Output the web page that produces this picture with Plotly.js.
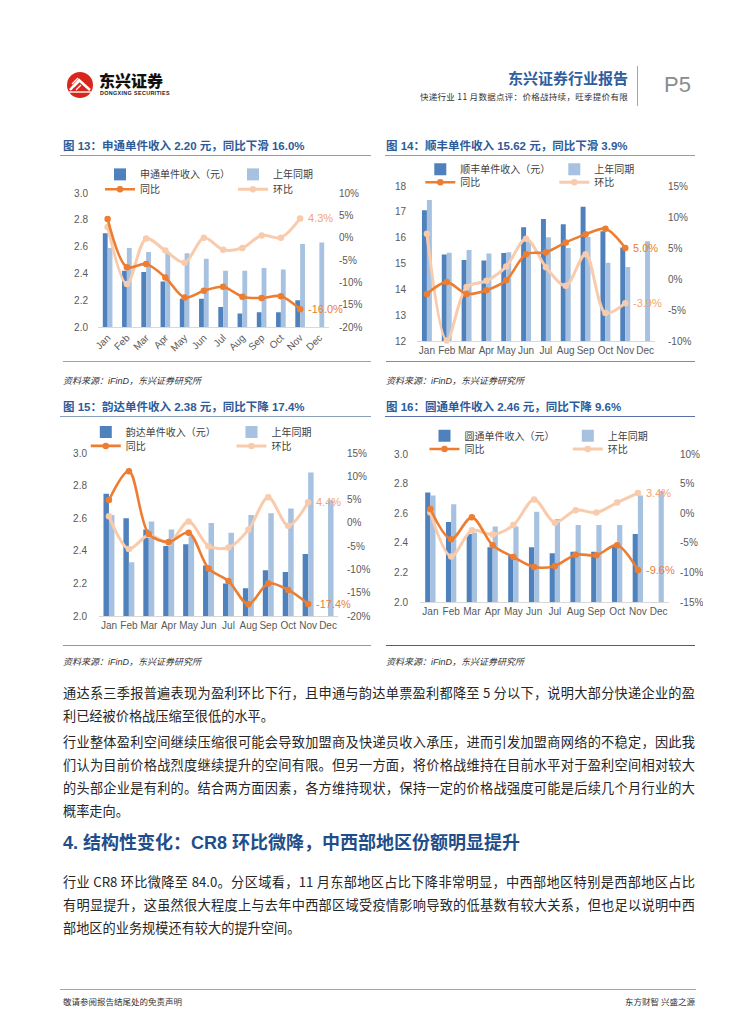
<!DOCTYPE html>
<html><head><meta charset="utf-8">
<script src="https://cdn.plot.ly/plotly-3.0.1.min.js"></script>
<style>
html,body{margin:0;padding:0;background:#fff;}
#page{position:relative;width:755px;height:1024px;overflow:hidden;font-family:"Noto Sans CJK SC",sans-serif;background:#fff;}
.abs{position:absolute;white-space:nowrap;}
.ctitle{position:absolute;font-family:"Liberation Sans","Noto Sans CJK SC",sans-serif;font-weight:bold;font-size:11.5px;color:#2E5B99;white-space:nowrap;line-height:14px;}
.hr{position:absolute;height:0;}
.src{position:absolute;font-family:"Liberation Sans","Noto Sans CJK SC",sans-serif;font-size:9px;font-style:italic;color:#333;white-space:nowrap;line-height:12px;}
.ln{position:absolute;left:63px;width:632px;font-size:13.2px;line-height:23px;height:23px;color:#262626;overflow:hidden;font-family:"Noto Sans CJK SC","Liberation Sans",sans-serif;}
.j{text-align:justify;text-align-last:justify;}
.chart{position:absolute;}
</style>
</head>
<body>
<div id="page">
  <!-- header -->
  <svg class="abs" style="left:66px;top:71px" width="28" height="28" viewBox="0 0 28 28">
    <circle cx="14" cy="14" r="13" fill="#D9261C"/>
    <path d="M4,19 L13,9 L24,19" stroke="#fff" stroke-width="2.6" fill="none"/>
    <path d="M6,13 L12,7 M8,16 L14,10 M10,19 L15,14" stroke="#fff" stroke-width="1.2" fill="none"/>
    <path d="M3,21 L25,21" stroke="#fff" stroke-width="1.4"/>
  </svg>
  <div class="abs" style="left:99px;top:70px;font-size:16px;font-weight:900;color:#111;letter-spacing:0px;line-height:20px;">东兴证券</div>
  <div class="abs" style="left:100px;top:90px;font-family:'Liberation Sans',sans-serif;font-size:5.4px;font-weight:bold;color:#222;letter-spacing:0.35px;line-height:7px;">DONGXING SECURITIES</div>
  <div class="abs" style="right:127px;top:68px;font-size:15px;font-weight:bold;color:#2F5D9E;line-height:20px;">东兴证券行业报告</div>
  <div class="abs" style="right:127px;top:90px;font-size:8.5px;color:#333;line-height:12px;letter-spacing:0.3px;">快递行业 11 月数据点评：价格战持续，旺季提价有限</div>
  <div class="abs" style="left:637px;top:66px;width:0;height:40px;border-left:1.5px solid #A6A6A6;"></div>
  <div class="abs" style="left:664px;top:71px;font-family:'Liberation Sans',sans-serif;font-size:22px;color:#8C8C8C;line-height:28px;">P5</div>

  <!-- chart titles and rules -->
  <div class="ctitle" style="left:63px;top:139px;">图 13：申通单件收入 2.20 元，同比下滑 16.0%</div>
  <div class="hr" style="left:60px;top:155px;width:311px;border-top:1.5px solid #8AA0B8;"></div>
  <div class="ctitle" style="left:386px;top:139px;">图 14：顺丰单件收入 15.62 元，同比下滑 3.9%</div>
  <div class="hr" style="left:385px;top:155px;width:310px;border-top:1.5px solid #8AA0B8;"></div>
  <div class="hr" style="left:63px;top:361px;width:308px;border-top:1.5px solid #7FA8CC;"></div>
  <div class="hr" style="left:386px;top:361px;width:309px;border-top:1.5px solid #8583CC;"></div>
  <div class="src" style="left:63px;top:375px;">资料来源：iFinD，东兴证券研究所</div>
  <div class="src" style="left:386px;top:375px;">资料来源：iFinD，东兴证券研究所</div>

  <div class="ctitle" style="left:63px;top:400px;">图 15：韵达单件收入 2.38 元，同比下降 17.4%</div>
  <div class="hr" style="left:60px;top:416px;width:311px;border-top:1.5px solid #8AA0B8;"></div>
  <div class="ctitle" style="left:386px;top:400px;">图 16：圆通单件收入 2.46 元，同比下降 9.6%</div>
  <div class="hr" style="left:385px;top:416px;width:310px;border-top:1.5px solid #5B6FA8;"></div>
  <div class="hr" style="left:63px;top:645px;width:308px;border-top:1.5px solid #7C9CC4;"></div>
  <div class="hr" style="left:386px;top:645px;width:309px;border-top:1.5px solid #4D5AA3;"></div>
  <div class="src" style="left:63px;top:656px;">资料来源：iFinD，东兴证券研究所</div>
  <div class="src" style="left:386px;top:656px;">资料来源：iFinD，东兴证券研究所</div>

  <div id="c13" class="chart"></div>
  <div id="c14" class="chart"></div>
  <div id="c15" class="chart"></div>
  <div id="c16" class="chart"></div>

  <!-- body text -->
  <div class="ln j" style="top:681px;">通达系三季报普遍表现为盈利环比下行，且申通与韵达单票盈利都降至 5 分以下，说明大部分快递企业的盈</div>
  <div class="ln" style="top:704px;">利已经被价格战压缩至很低的水平。</div>
  <div class="ln j" style="top:730px;">行业整体盈利空间继续压缩很可能会导致加盟商及快递员收入承压，进而引发加盟商网络的不稳定，因此我</div>
  <div class="ln j" style="top:753px;">们认为目前价格战烈度继续提升的空间有限。但另一方面，将价格战维持在目前水平对于盈利空间相对较大</div>
  <div class="ln j" style="top:776px;">的头部企业是有利的。结合两方面因素，各方维持现状，保持一定的价格战强度可能是后续几个月行业的大</div>
  <div class="ln" style="top:799px;">概率走向。</div>
  <div class="abs" style="left:63px;top:831px;font-size:18px;font-weight:bold;color:#1F4E8A;line-height:25px;font-family:'Liberation Sans','Noto Sans CJK SC',sans-serif;">4. 结构性变化：CR8 环比微降，中西部地区份额明显提升</div>
  <div class="ln j" style="top:870px;">行业 CR8 环比微降至 84.0。分区域看，11 月东部地区占比下降非常明显，中西部地区特别是西部地区占比</div>
  <div class="ln j" style="top:893px;">有明显提升，这虽然很大程度上与去年中西部区域受疫情影响导致的低基数有较大关系，但也足以说明中西</div>
  <div class="ln" style="top:916px;">部地区的业务规模还有较大的提升空间。</div>

  <!-- footer -->
  <div class="hr" style="left:60px;top:989px;width:636px;border-top:1.5px solid #8EAACB;"></div>
  <div class="abs" style="left:63px;top:995px;font-size:8.5px;color:#333;line-height:12px;">敬请参阅报告结尾处的免责声明</div>
  <div class="abs" style="right:60px;top:995px;font-size:8.5px;color:#333;line-height:12px;">东方财智 兴盛之源</div>
</div>

<script>
// ---------------- data ----------------
const months = ['Jan','Feb','Mar','Apr','May','Jun','Jul','Aug','Sep','Oct','Nov','Dec'];

// 图13 申通
const stoRev  = [2.70, 2.42, 2.41, 2.34, 2.21, 2.21, 2.15, 2.10, 2.11, 2.11, 2.20];
const stoPrev = [2.59, 2.59, 2.56, 2.55, 2.55, 2.51, 2.42, 2.42, 2.44, 2.43, 2.62, 2.63];
const stoYoY  = [4.2, -6.6, -5.9, -8.9, -13.4, -11.9, -11.0, -13.2, -13.5, -13.1, -16.0];
const stoMoM  = [2.4, -10.4, -0.2, -2.9, -5.6, 0.0, -2.7, -2.3, 0.5, 0.0, 4.3];
const stoLeftTicks = [2.0, 2.2, 2.4, 2.6, 2.8, 3.0];
const stoPctTicks  = [-20, -15, -10, -5, 0, 5, 10];

// 图14 顺丰
const sfRev  = [17.06, 15.35, 15.14, 15.12, 15.41, 16.40, 16.72, 16.52, 17.20, 16.25, 15.62];
const sfPrev = [17.46, 15.42, 15.52, 15.39, 15.44, 15.90, 16.02, 15.60, 16.03, 15.03, 14.86, 15.86];
const sfYoY  = [-2.4, -0.5, -2.4, -1.8, -0.2, 4.0, 4.3, 5.9, 7.2, 8.1, 5.0];
const sfMoM  = [7.3, -9.9, -1.3, -0.3, 2.0, 6.5, 1.9, -1.1, 4.0, -5.5, -3.9];
const sfLeftTicks = [12, 13, 14, 15, 16, 17, 18];
const sfPctTicks  = [-10, -5, 0, 5, 10, 15];

// 图15 韵达
const ydRev  = [2.75, 2.60, 2.53, 2.43, 2.44, 2.31, 2.20, 2.17, 2.28, 2.27, 2.38];
const ydPrev = [2.62, 2.33, 2.58, 2.53, 2.49, 2.57, 2.51, 2.62, 2.63, 2.66, 2.88, 2.71];
const ydYoY  = [4.9, 11.1, -2.4, -4.1, -2.1, -9.8, -12.5, -17.5, -13.0, -14.4, -17.4];
const ydMoM  = [1.4, -5.6, -2.6, -4.3, 0.3, -5.0, -5.3, -1.5, 5.5, -0.6, 4.4];
const ydLeftTicks = [2.0, 2.2, 2.4, 2.6, 2.8, 3.0];
const ydPctTicks  = [-20, -15, -10, -5, 0, 5, 10, 15];

// 图16 圆通
const ytoRev  = [2.74, 2.54, 2.46, 2.37, 2.32, 2.37, 2.33, 2.34, 2.34, 2.38, 2.46];
const ytoPrev = [2.72, 2.66, 2.47, 2.51, 2.51, 2.61, 2.56, 2.52, 2.52, 2.52, 2.72, 2.75];
const ytoYoY  = [0.7, -4.4, -0.7, -5.4, -7.4, -9.1, -8.9, -7.0, -7.1, -5.4, -9.6];
const ytoMoM  = [0.1, -7.3, -2.9, -3.6, -2.0, 2.3, -1.6, 0.5, 0.1, 1.8, 3.4];
const ytoLeftTicks = [2.0, 2.2, 2.4, 2.6, 2.8, 3.0];
const ytoPctTicks  = [-15, -10, -5, 0, 5, 10];

// ---------------- drawing ----------------
const FONT = '"Liberation Sans", Arial, "Noto Sans CJK SC", sans-serif';
const C_REV = '#4F81BD', C_PREV = '#A7C1E0', C_YOY = '#ED7D31', C_MOM = '#F8CBAD', C_MOM_TXT = '#F4A46E';

function draw(cfg) {
  const el = document.getElementById(cfg.id);
  el.style.left = cfg.div.x + 'px';
  el.style.top = cfg.div.y + 'px';
  const W = cfg.div.w, H = cfg.div.h;
  const l = cfg.plot.x0 - cfg.div.x, r = cfg.div.x + W - cfg.plot.x1;
  const t = cfg.plot.y0 - cfg.div.y, b = cfg.div.y + H - cfg.plot.y1;
  const pw = cfg.plot.x1 - cfg.plot.x0, ph = cfg.plot.y1 - cfg.plot.y0;
  const lx = (cfg.leg.x - 5 - cfg.plot.x0) / pw;
  const ly1 = (cfg.plot.y1 - cfg.leg.y1) / ph, ly2 = (cfg.plot.y1 - cfg.leg.y2) / ph;
  const n = cfg.rev.length;
  const xCur = months.slice(0, n);
  const firstW = cfg.leg.gap - 45;

  const revT = {type:'bar', x:xCur, y:cfg.rev, name:cfg.revName, marker:{color:C_REV},
    legend:'legend', legendwidth:firstW};
  const prevT = {type:'bar', x:months, y:cfg.prev, name:'上年同期', marker:{color:C_PREV},
    legend:'legend', legendwidth:45};
  const yoyT = {type:'scatter', mode:'lines+markers', x:xCur, y:cfg.yoy, yaxis:'y2', name:'同比',
    line:{color:C_YOY, width:2.6, shape:'spline', smoothing:0.9}, marker:{size:6.5, color:C_YOY},
    cliponaxis:false, legend:'legend2', legendwidth:firstW, legendrank:1};
  const momT = {type:'scatter', mode:'lines+markers', x:xCur, y:cfg.mom, yaxis:'y2', name:'环比',
    line:{color:C_MOM, width:3, shape:'spline', smoothing:0.9}, marker:{size:6.5, color:C_MOM},
    cliponaxis:false, legend:'legend2', legendwidth:30, legendrank:2};
  const data = [revT, prevT, momT, yoyT];

  const legBase = {orientation:'h', xanchor:'left', yanchor:'middle', x:lx,
    entrywidthmode:'pixels', itemwidth:30,
    bgcolor:'rgba(0,0,0,0)', font:{family:FONT, size:10, color:'#404040'}, traceorder:'normal'};

  const lastYoY = cfg.yoy[n-1], lastMoM = cfg.mom[n-1];
  const layout = {
    width:W, height:H, margin:{l:l, r:r, t:t, b:b, pad:0},
    paper_bgcolor:'rgba(0,0,0,0)', plot_bgcolor:'rgba(0,0,0,0)',
    font:{family:FONT, size:10, color:'#595959'},
    barmode:'group', bargap:cfg.bargap, bargroupgap:0,
    showlegend:true,
    xaxis:{type:'category', categoryorder:'array', categoryarray:months, range:[-0.5, 11.5],
      tickangle:cfg.angle, showline:true, linecolor:'#D9D9D9', linewidth:1, ticks:'',
      showgrid:false, zeroline:false, tickfont:{family:FONT, size:10, color:'#595959'}, fixedrange:true},
    yaxis:{range:[cfg.leftTicks[0], cfg.leftTicks[cfg.leftTicks.length-1]], tickvals:cfg.leftTicks,
      ticktext:cfg.leftTicks.map(v => v.toFixed(cfg.dec)), showgrid:false, zeroline:false, showline:false,
      ticks:'', ticklabelstandoff:cfg.lstand, tickfont:{family:FONT, size:10, color:'#595959'}, fixedrange:true},
    yaxis2:{overlaying:'y', side:'right', range:[cfg.pct[0], cfg.pct[cfg.pct.length-1]], tickvals:cfg.pct,
      ticktext:cfg.pct.map(v => v + '%'), showgrid:false, zeroline:false, showline:false, ticks:'',
      ticklabelstandoff:cfg.rstand, tickfont:{family:FONT, size:10, color:'#595959'}, fixedrange:true},
    legend: Object.assign({}, legBase, {y:ly1}),
    legend2: Object.assign({}, legBase, {y:ly2}),
    annotations:[
      {x:xCur[n-1], y:lastYoY, xref:'x', yref:'y2', text:lastYoY.toFixed(1) + '%', showarrow:false,
       xanchor:'left', yanchor:'middle', xshift:6, font:{family:FONT, size:11, color:C_YOY}},
      {x:xCur[n-1], y:lastMoM, xref:'x', yref:'y2', text:lastMoM.toFixed(1) + '%', showarrow:false,
       xanchor:'left', yanchor:'middle', xshift:6, font:{family:FONT, size:11, color:C_MOM_TXT}}
    ]
  };
  Plotly.newPlot(el, data, layout, {displayModeBar:false, staticPlot:true});
}

draw({id:'c13', rev:stoRev, prev:stoPrev, yoy:stoYoY, mom:stoMoM, revName:'申通单件收入（元）',
  leftTicks:stoLeftTicks, dec:1, pct:stoPctTicks, angle:-45, bargap:0.5, lstand:9, rstand:9,
  div:{x:60, y:140, w:312, h:220}, plot:{x0:98, x1:328.6, y0:192.7, y1:327.3},
  leg:{x:105, y1:174, y2:189, gap:133}});
draw({id:'c14', rev:sfRev, prev:sfPrev, yoy:sfYoY, mom:sfMoM, revName:'顺丰单件收入（元）',
  leftTicks:sfLeftTicks, dec:0, pct:sfPctTicks, angle:0, bargap:0.5, lstand:10, rstand:12,
  div:{x:385, y:140, w:315, h:220}, plot:{x0:417.4, x1:655.5, y0:185.7, y1:341},
  leg:{x:425.7, y1:169, y2:182, gap:134}});
draw({id:'c15', rev:ydRev, prev:ydPrev, yoy:ydYoY, mom:ydMoM, revName:'韵达单件收入（元）',
  leftTicks:ydLeftTicks, dec:1, pct:ydPctTicks, angle:0, bargap:0.45, lstand:11, rstand:8,
  div:{x:60, y:405, w:312, h:238}, plot:{x0:99.2, x1:338, y0:448.3, y1:615.7},
  leg:{x:91, y1:426.7, y2:441, gap:145.7}});
draw({id:'c16', rev:ytoRev, prev:ytoPrev, yoy:ytoYoY, mom:ytoMoM, revName:'圆通单件收入（元）',
  leftTicks:ytoLeftTicks, dec:1, pct:ytoPctTicks, angle:0, bargap:0.5, lstand:11, rstand:10,
  div:{x:385, y:405, w:318, h:238}, plot:{x0:419.8, x1:669.5, y0:454, y1:602.3},
  leg:{x:429.3, y1:435.7, y2:449, gap:143.3}});
</script>
</body></html>
